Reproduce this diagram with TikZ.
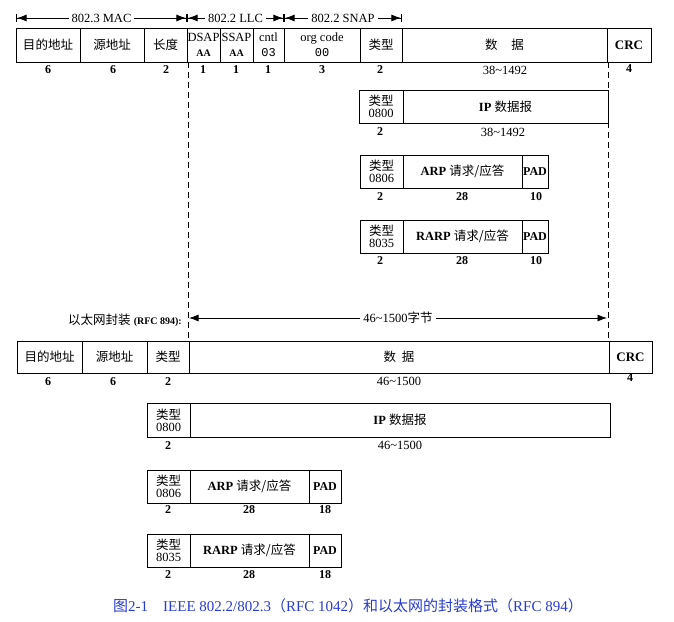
\documentclass[tikz,border=0pt]{standalone}
\usepackage{fontspec}
\setmainfont{Liberation Serif}
\setmonofont{Liberation Mono}
\newfontfamily\cjkfont{Noto Sans CJK SC}
\usetikzlibrary{arrows.meta}
\definecolor{capblue}{RGB}{40,60,205}
\newcommand\zhtxt[1]{{\cjkfont #1}}
\newcommand\fldbox[6]{%
  \pgfmathsetmacro\fldw{#3-#2}%
  \pgfmathsetmacro\fldh{#5-#4}%
  \node[fieldbox,minimum width=\fldw pt,minimum height=\fldh pt] (#1) at ({(#2+#3)/2},{(#4+#5)/2}) {#6};}
\tikzset{
  fieldbox/.style={draw, line width=0.85pt, inner sep=0pt, align=center, font=\fontsize{12.5}{15}\selectfont},
  numlbl/.style={inner sep=0pt, font=\bfseries\fontsize{12}{12}\selectfont},
  rnglbl/.style={inner sep=0pt, font=\fontsize{12.5}{12.5}\selectfont},
  seglbl/.style={fill=white, inner sep=3pt, font=\fontsize{12.5}{12.5}\selectfont},
  tipL/.tip={Latex[length=9.5pt,width=7pt]},
  barT/.tip={Bar[width=8pt,line width=1.1pt]},
  segarrow/.style={line width=0.85pt, {barT[]tipL[]}-{tipL[]barT[]}},
  ptarrow/.style={line width=0.85pt, {tipL[]}-{tipL[]}},
  guide/.style={line width=0.85pt, dash pattern=on 6pt off 4pt},
}
\newcommand\twoln[2]{#1\\[-3pt]#2}
\begin{document}
\begin{tikzpicture}[x=1pt,y=-1pt]
\useasboundingbox (0,0) rectangle (674,621);

% ---------- top row : 802.2/802.3 ----------
\coordinate (a0) at (16,18);
\coordinate (a1) at (187,18);
\coordinate (a2) at (284,18);
\coordinate (a3) at (402,18);
\draw[segarrow] (a0) -- node[seglbl] (lmac) {802.3 MAC} (a1);
\draw[segarrow] (a1) -- node[seglbl] (lllc) {802.2 LLC} (a2);
\draw[segarrow] (a2) -- node[seglbl] (lsnap) {802.2 SNAP} (a3);

\fldbox{tdst}{16}{80}{28}{62}{\zhtxt{目的地址}}
\fldbox{tsrc}{80}{144}{28}{62}{\zhtxt{源地址}}
\fldbox{tlen}{144}{187}{28}{62}{\zhtxt{长度}}
\fldbox{tdsap}{187}{220}{28}{62}{DSAP\\{\bfseries\fontsize{10}{10}\selectfont AA}}
\fldbox{tssap}{220}{253}{28}{62}{SSAP\\{\bfseries\fontsize{10}{10}\selectfont AA}}
\fldbox{tcntl}{253}{284}{28}{62}{cntl\\{\ttfamily\fontsize{12}{12}\selectfont 03}}
\fldbox{torg}{284}{360}{28}{62}{org code\\{\ttfamily\fontsize{12}{12}\selectfont 00}}
\fldbox{ttype}{360}{402}{28}{62}{\zhtxt{类型}}
\fldbox{tdata}{402}{607}{28}{62}{\zhtxt{数\hspace{1.1em}据}}
\fldbox{tcrc}{607}{651}{28}{62}{\bfseries\fontsize{13}{13}\selectfont CRC}

\node[numlbl] (tn1) at (48,70) {6};
\node[numlbl] (tn2) at (113,70) {6};
\node[numlbl] (tn3) at (166,70) {2};
\node[numlbl] (tn4) at (203,70) {1};
\node[numlbl] (tn5) at (236,70) {1};
\node[numlbl] (tn6) at (268,70) {1};
\node[numlbl] (tn7) at (322,70) {3};
\node[numlbl] (tn8) at (380,70) {2};
\node[rnglbl] (tn9) at (505,70) {38\textasciitilde1492};
\node[numlbl] (tn10) at (629,69) {4};

% ---------- middle encapsulations ----------
\fldbox{mipt}{359}{403}{90}{123}{\twoln{\zhtxt{类型}}{0800}}
\fldbox{mipd}{403}{608}{90}{123}{{\bfseries IP} \zhtxt{数据报}}
\node[numlbl] (mn1) at (380,132) {2};
\node[rnglbl] (mn2) at (503,132) {38\textasciitilde1492};

\fldbox{mat}{360}{403}{155}{188}{\twoln{\zhtxt{类型}}{0806}}
\fldbox{mad}{403}{522}{155}{188}{{\bfseries ARP} \zhtxt{请求/应答}}
\fldbox{map}{522}{548}{155}{188}{\bfseries\fontsize{12}{12}\selectfont PAD}
\node[numlbl] (mn3) at (380,196.5) {2};
\node[numlbl] (mn4) at (462,196.5) {28};
\node[numlbl] (mn5) at (536,196.5) {10};

\fldbox{mrt}{360}{403}{220}{253}{\twoln{\zhtxt{类型}}{8035}}
\fldbox{mrd}{403}{522}{220}{253}{{\bfseries RARP} \zhtxt{请求/应答}}
\fldbox{mrp}{522}{548}{220}{253}{\bfseries\fontsize{12}{12}\selectfont PAD}
\node[numlbl] (mn6) at (380,260.5) {2};
\node[numlbl] (mn7) at (462,260.5) {28};
\node[numlbl] (mn8) at (536,260.5) {10};

% ---------- dashed guides ----------
\coordinate (dl1) at (188,62);
\coordinate (dl2) at (188,341);
\coordinate (dr1) at (608,62);
\coordinate (dr2) at (608,341);
\draw[guide] (dl1) -- (dl2);
\draw[guide] (dr1) -- (dr2);

% ---------- Ethernet ----------
\node[anchor=east, inner sep=0pt, font=\fontsize{12.5}{13}\selectfont] (ethlbl) at (182,320)
  {\zhtxt{以太网封装} {\bfseries\fontsize{10}{10}\selectfont (RFC 894):}};
\coordinate (e0) at (189,318);
\coordinate (e1) at (607,318);
\draw[ptarrow] (e0) -- node[seglbl] (l46) {46\textasciitilde1500\zhtxt{字节}} (e1);

\fldbox{bdst}{17}{82}{341}{373}{\zhtxt{目的地址}}
\fldbox{bsrc}{82}{147}{341}{373}{\zhtxt{源地址}}
\fldbox{btype}{147}{189}{341}{373}{\zhtxt{类型}}
\fldbox{bdata}{189}{609}{341}{373}{\zhtxt{数\hspace{0.45em}据}}
\fldbox{bcrc}{609}{652}{341}{373}{\bfseries\fontsize{13}{13}\selectfont CRC}
\node[numlbl] (bn1) at (48,382) {6};
\node[numlbl] (bn2) at (113,382) {6};
\node[numlbl] (bn3) at (168,382) {2};
\node[rnglbl] (bn4) at (399,381) {46\textasciitilde1500};
\node[numlbl] (bn5) at (630,378) {4};

\fldbox{bipt}{147}{190}{403}{437}{\twoln{\zhtxt{类型}}{0800}}
\fldbox{bipd}{190}{610}{403}{437}{{\bfseries IP} \zhtxt{数据报}}
\node[numlbl] (bn6) at (168,445.5) {2};
\node[rnglbl] (bn7) at (400,445.5) {46\textasciitilde1500};

\fldbox{bat}{147}{190}{470}{503}{\twoln{\zhtxt{类型}}{0806}}
\fldbox{bad}{190}{309}{470}{503}{{\bfseries ARP} \zhtxt{请求/应答}}
\fldbox{bap}{309}{341}{470}{503}{\bfseries\fontsize{12}{12}\selectfont PAD}
\node[numlbl] (bn8) at (168,509.5) {2};
\node[numlbl] (bn9) at (249,509.5) {28};
\node[numlbl] (bn10) at (325,509.5) {18};

\fldbox{brt}{147}{190}{534}{567}{\twoln{\zhtxt{类型}}{8035}}
\fldbox{brd}{190}{309}{534}{567}{{\bfseries RARP} \zhtxt{请求/应答}}
\fldbox{brp}{309}{341}{534}{567}{\bfseries\fontsize{12}{12}\selectfont PAD}
\node[numlbl] (bn11) at (168,574.5) {2};
\node[numlbl] (bn12) at (249,574.5) {28};
\node[numlbl] (bn13) at (325,574.5) {18};

% ---------- caption ----------
\node[inner sep=0pt, text=capblue, font=\fontsize{15}{15}\selectfont] (cap) at (348,606)
  {\zhtxt{图}2-1\hspace{1em}IEEE 802.2/802.3\zhtxt{（}RFC 1042\zhtxt{）和以太网的封装格式（}RFC 894\zhtxt{）}};
\end{tikzpicture}
\end{document}
